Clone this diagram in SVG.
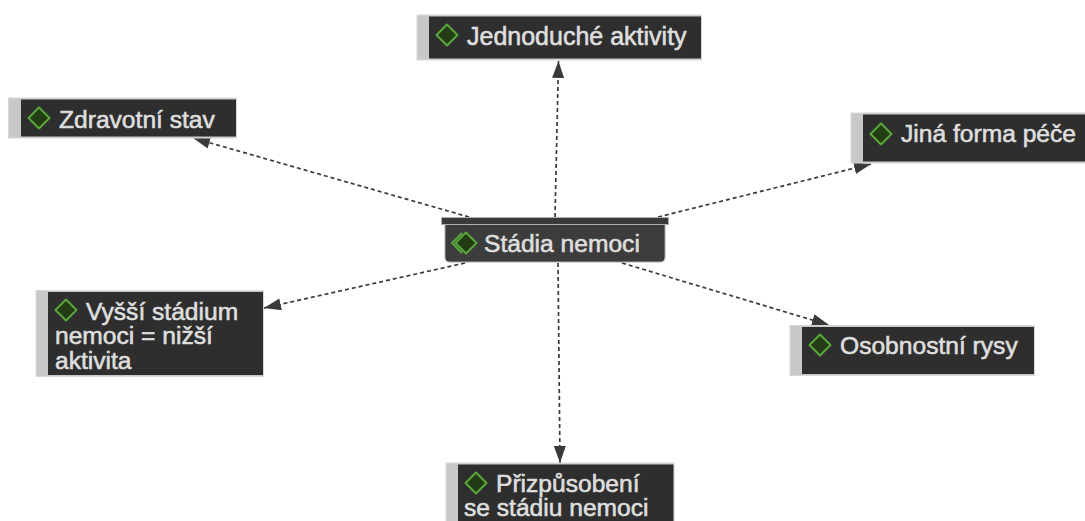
<svg xmlns="http://www.w3.org/2000/svg" width="1085" height="521" viewBox="0 0 1085 521">
<style>
text{font-family:"Liberation Sans",Arial,sans-serif;font-size:24.6px;font-weight:400;fill:#dedede;stroke:#dedede;stroke-width:.6px}
.w{font-size:25px}
.o{fill:#c8c8c8;stroke:#d8d8d8;stroke-width:1}
.b{fill:#2e2e2e}
.d{fill:#243c15;stroke:#5aa83a;stroke-width:2;stroke-linejoin:round}
.c{fill:none;stroke:#3a3a3a;stroke-width:1.7;stroke-dasharray:4 3;marker-end:url(#a)}
</style>
<defs>
<marker id="a" markerUnits="userSpaceOnUse" markerWidth="20" markerHeight="14" refX="17" refY="6" orient="auto"><path d="M0 0L17 6L0 12Z" fill="#3a3a3a"/></marker>
<path id="dm" d="M0-10.500L10.500 0L0 10.500L-10.500 0Z" class="d"/>
</defs>
<g id="connectors">
<path class="c" d="M555 217L558.500 61"/>
<path class="c" d="M469 217L193 138"/>
<path class="c" d="M658 217L871 164"/>
<path class="c" d="M465 263L264 308"/>
<path class="c" d="M622 263L829 325"/>
<path class="c" d="M558 263L560 463"/>
</g>
<g id="n-jednoduche"><rect class="o" x="417" y="15" width="284.500" height="45"/><rect class="b" x="429" y="16.500" width="272" height="42"/><use href="#dm" x="447" y="35"/><text class="w" x="467" y="44.500">Jednoduché aktivity</text></g>
<g id="n-zdravotni"><rect class="o" x="8.500" y="98" width="228" height="40"/><rect class="b" x="21" y="99.500" width="215" height="37"/><use href="#dm" x="39" y="118"/><text x="59" y="127.500">Zdravotní stav</text></g>
<g id="n-jina"><rect class="o" x="851" y="113" width="240" height="50"/><rect class="b" x="863" y="114.500" width="228" height="47"/><use href="#dm" x="881" y="134"/><text x="901" y="141.500">Jiná forma péče</text></g>
<g id="n-stadia">
<path d="M445 224H665V257Q665 262 660 262H450Q445 262 445 257Z" fill="#3c3c3c" stroke="#a8a8a8"/>
<rect x="441.500" y="217.500" width="227" height="7" fill="#3a3a3a" stroke="#b0b0b0"/>
<path d="M462 233L452 243L462 253" fill="none" stroke="#5aa83a" stroke-width="2"/>
<use href="#dm" x="466" y="243"/>
<text x="484" y="251.500">Stádia nemoci</text>
</g>
<g id="n-vyssi"><rect class="o" x="36" y="290.500" width="227.500" height="86"/><rect class="b" x="48" y="292" width="215" height="83"/><use href="#dm" x="66" y="310"/><text x="86" y="319.500">Vyšší stádium</text><text x="55" y="344">nemoci = nižší</text><text x="55" y="368.500">aktivita</text></g>
<g id="n-osobnostni"><rect class="o" x="790" y="325.500" width="244.500" height="50"/><rect class="b" x="802" y="327" width="232" height="47"/><use href="#dm" x="820" y="345"/><text x="840" y="354">Osobnostní rysy</text></g>
<g id="n-prizpusobeni"><rect class="o" x="446" y="463" width="228" height="64"/><rect class="b" x="458" y="464.500" width="215.500" height="62"/><use href="#dm" x="476" y="483"/><text x="496" y="491.500">Přizpůsobení</text><text x="464" y="516">se stádiu nemoci</text></g>
</svg>
